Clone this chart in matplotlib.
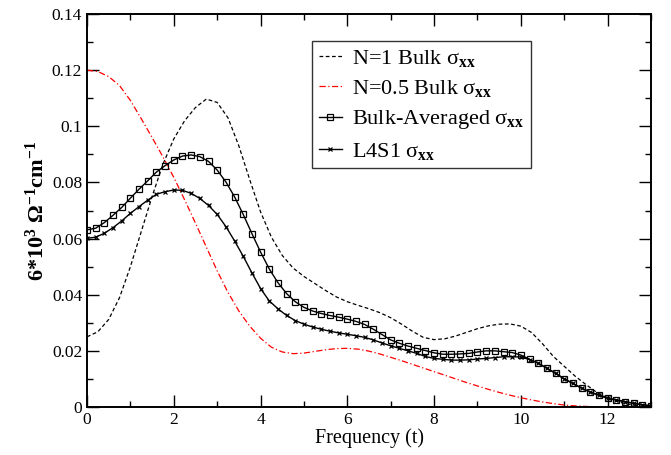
import matplotlib
matplotlib.use("Agg")
import matplotlib.pyplot as plt
import numpy as np

# Frequency grid of the marker curves (every 0.2 t)
t_marker = np.round(np.arange(0, 13.01, 0.2), 2)
# Frequency grid of the plain lines (every 0.25 t)
t_line = np.round(np.arange(0, 13.01, 0.25), 2)

bulk_avg = [
    0.0631, 0.0637, 0.0657, 0.0683, 0.0711, 0.0744, 0.0776, 0.0806, 0.0837, 0.0860,
    0.0880, 0.0894, 0.0898, 0.0892, 0.0875, 0.0844, 0.0802, 0.0749, 0.0686, 0.0618,
    0.0552, 0.0492, 0.0443, 0.0404, 0.0375, 0.0355, 0.0342, 0.0333, 0.0326, 0.0320,
    0.0313, 0.0305, 0.0294, 0.0277, 0.0258, 0.0239, 0.0227, 0.0217, 0.0209, 0.0201,
    0.0193, 0.0188, 0.0188, 0.0189, 0.0191, 0.0196, 0.0200, 0.0200, 0.0197, 0.0194,
    0.0185, 0.0170, 0.0156, 0.0138, 0.0120, 0.0100, 0.0084, 0.0067, 0.0053, 0.0042,
    0.0031, 0.0025, 0.0019, 0.0013, 0.0008, 0.0004,
]
l4s1 = [
    0.0601, 0.0605, 0.0619, 0.0639, 0.0663, 0.0690, 0.0714, 0.0737, 0.0758, 0.0767,
    0.0773, 0.0772, 0.0761, 0.0743, 0.0718, 0.0686, 0.0643, 0.0592, 0.0537, 0.0478,
    0.0422, 0.0378, 0.0350, 0.0326, 0.0308, 0.0295, 0.0285, 0.0277, 0.0270, 0.0264,
    0.0259, 0.0254, 0.0248, 0.0239, 0.0228, 0.0218, 0.0209, 0.0200, 0.0191, 0.0180,
    0.0173, 0.0170, 0.0167, 0.0167, 0.0168, 0.0171, 0.0173, 0.0176, 0.0179, 0.0179,
    0.0178, 0.0169, 0.0156, 0.0138, 0.0120, 0.0100, 0.0084, 0.0067, 0.0053, 0.0042,
    0.0031, 0.0025, 0.0019, 0.0013, 0.0008, 0.0004,
]
bulk_n1 = [
    0.0250, 0.0268, 0.0312, 0.0390, 0.0500, 0.0625, 0.0750, 0.0865, 0.0955, 0.1020,
    0.1067, 0.1097, 0.1085, 0.1030, 0.0930, 0.0810, 0.0695, 0.0605, 0.0540, 0.0495,
    0.0465, 0.0440, 0.0415, 0.0392, 0.0375, 0.0362, 0.0350, 0.0336, 0.0318, 0.0295,
    0.0270, 0.0248, 0.0240, 0.0243, 0.0253, 0.0266, 0.0279, 0.0289, 0.0295, 0.0296,
    0.0288, 0.0265, 0.0225, 0.0180, 0.0145, 0.0110, 0.0080, 0.0052, 0.0032, 0.0018,
    0.0009, 0.0003, 0.0000,
]
bulk_n05 = [
    0.1200, 0.1195, 0.1177, 0.1145, 0.1092, 0.1027, 0.0960, 0.0891, 0.0818, 0.0738,
    0.0655, 0.0570, 0.0485, 0.0408, 0.0342, 0.0288, 0.0245, 0.0213, 0.0196, 0.0190,
    0.0192, 0.0198, 0.0204, 0.0208, 0.0209, 0.0206, 0.0199, 0.0189, 0.0177, 0.0165,
    0.0152, 0.0139, 0.0126, 0.0113, 0.0100, 0.0087, 0.0075, 0.0063, 0.0052, 0.0042,
    0.0033, 0.0025, 0.0018, 0.0012, 0.0007, 0.0004, 0.0002, 0.0001, 0.0, 0.0,
    0.0, 0.0, 0.0,
]
ytick_labels = ["0", "0.02", "0.04", "0.06", "0.08", "0.1", "0.12", "0.14"]

plt.rcParams["font.family"] = ["Liberation Serif", "DejaVu Serif"]
plt.rcParams["mathtext.fontset"] = "custom"
plt.rcParams["mathtext.rm"] = "Liberation Serif"
plt.rcParams["mathtext.it"] = "Liberation Serif:italic"
plt.rcParams["mathtext.bf"] = "Liberation Serif:bold"

fig = plt.figure(figsize=(6.71, 4.55), dpi=100)
ax = fig.add_axes([0.1297, 0.1055, 0.8405, 0.8637])

sig = r"σ$_{\mathbf{xx}}$"
ax.plot(t_line, bulk_n1, color="black", ls=(0, (3, 2)), lw=0.9, label="N=1 Bulk " + sig)
ax.plot(t_line, bulk_n05, color="red", ls=(0, (5, 2, 1, 2)), lw=0.9, label="N=0.5 Bulk " + sig)
ax.plot(t_marker, bulk_avg, color="black", lw=1.0, marker="s", ms=4.5, mfc="none",
        mew=0.9, label="Bulk-Averaged " + sig)
ax.plot(t_marker, l4s1, color="black", lw=1.0, marker="x", ms=3.5, mew=0.9,
        label="L4S1 " + sig)

ax.set_xlim(0, 13)
ax.set_ylim(0, 0.14)
ax.set_xticks(np.arange(0, 13, 2))
ax.set_xticks(np.arange(0, 14, 1), minor=True)
ax.set_yticks(np.arange(0, 0.141, 0.02))
ax.set_yticks(np.arange(0, 0.141, 0.01), minor=True)
ax.set_yticklabels(ytick_labels)
ax.tick_params(which="both", direction="in", top=True, right=True, labelsize=12.5, width=1.0)
ax.tick_params(which="major", length=8.5)
ax.tick_params(which="minor", length=4.5)
for s in ax.spines.values():
    s.set_linewidth(1.4)

ax.set_xlabel("Frequency (t)", fontsize=14.5, labelpad=0)
ax.set_ylabel(r"6*10$^{\mathbf{3}}$ $\mathbf{\Omega^{-1}}$cm$^{\mathbf{-1}}$",
              fontsize=16, fontweight="bold", labelpad=2)

leg = ax.legend(loc="upper left", bbox_to_anchor=(0.399, 0.931), fontsize=16,
                frameon=True, fancybox=False, handlelength=1.05, handletextpad=0.45,
                borderpad=0.3, labelspacing=0.42, borderaxespad=0)
leg.get_frame().set_edgecolor("black")
leg.get_frame().set_linewidth(1.0)

fig.savefig("out.png", dpi=100)
